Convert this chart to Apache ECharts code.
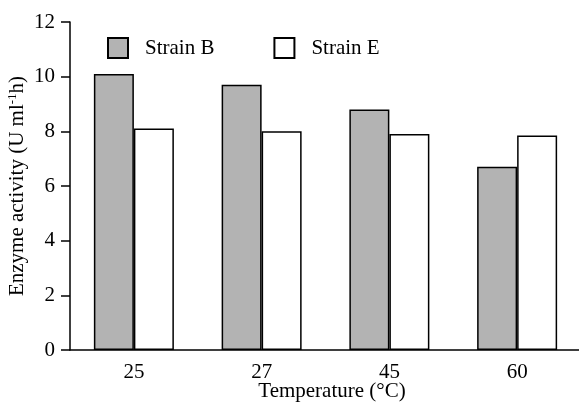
<!DOCTYPE html>
<html>
<head>
<meta charset="utf-8">
<script src="https://cdn.jsdelivr.net/npm/echarts@6/dist/echarts.min.js"></script>
<style>html,body{margin:0;padding:0;background:#fff}#c{width:579px;height:406px}</style>
</head>
<body>
<div id="c"></div>
<script>
const categories = ['25', '27', '45', '60'];
const strainB = [10.1, 9.7, 8.8, 6.7];
const strainE = [8.1, 8.0, 7.9, 7.85];
const yTicks = [0, 2, 4, 6, 8, 10, 12];

const FONT = "'Liberation Serif','Times New Roman',serif";
const FS = 21;
const chart = echarts.init(document.getElementById('c'));
chart.setOption({
  animation: false,
  backgroundColor: '#fff',
  textStyle: { fontFamily: FONT, color: '#000' },
  grid: { left: 70, top: 22, bottom: 56, width: 511, outerBoundsMode: 'none', containLabel: false },
  legend: {
    left: 107, top: 37, padding: 0, itemWidth: 20, itemHeight: 20, itemGap: 59,
    icon: 'rect',
    textStyle: { fontFamily: FONT, fontSize: FS, color: '#000', padding: [0, 0, 0, 12] },
    data: ['Strain B', 'Strain E']
  },
  xAxis: {
    type: 'category', data: categories, boundaryGap: true,
    axisLine: { lineStyle: { color: '#000', width: 1.5 } },
    axisTick: { length: 12, lineStyle: { color: '#000', width: 1.5 } },
    axisLabel: { fontFamily: FONT, fontSize: FS, color: '#000', margin: 12 },
    name: 'Temperature (°C)', nameLocation: 'middle', nameGap: 31, nameMoveOverlap: false,
    nameTextStyle: { fontFamily: FONT, fontSize: FS, color: '#000', padding: [0, 0, 0, 13] }
  },
  yAxis: {
    type: 'value', min: yTicks[0], max: yTicks[yTicks.length - 1], interval: 2,
    splitLine: { show: false },
    axisLine: { show: true, lineStyle: { color: '#000', width: 1.5 } },
    axisTick: { show: true, length: 9, lineStyle: { color: '#000', width: 1.5 } },
    axisLabel: { fontFamily: FONT, fontSize: FS, color: '#000', margin: 15 },
    name: '{a|Enzyme activity (U ml}{s|-1}{a|h)}', nameLocation: 'middle', nameGap: 42, nameMoveOverlap: false,
    nameTextStyle: {
      fontFamily: FONT, fontSize: FS, color: '#000',
      rich: {
        a: { fontFamily: FONT, fontSize: FS, color: '#000' },
        s: { fontFamily: FONT, fontSize: 13, color: '#000', padding: [0, 0, 9, 0] }
      }
    }
  },
  series: [
    { name: 'Strain B', type: 'bar', data: strainB, barWidth: 40, barGap: '0%',
      itemStyle: { color: '#b3b3b3', borderColor: '#000', borderWidth: 1.5 } },
    { name: 'Strain E', type: 'bar', data: strainE, barWidth: 40, barGap: '0%',
      itemStyle: { color: '#fff', borderColor: '#000', borderWidth: 1.5 } }
  ]
});
</script>
</body>
</html>
